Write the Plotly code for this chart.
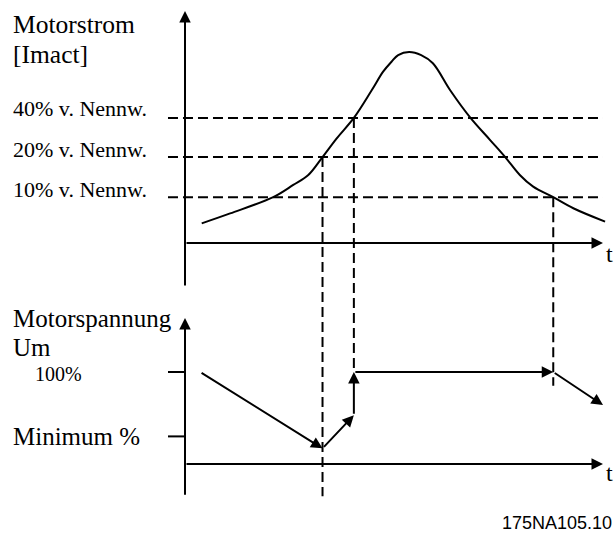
import plotly.graph_objects as go

# ---------------- data ----------------
# Motor current curve (time in % of axis length, current in schematic units, peak = 100)
t_curve = [4.0, 10.8, 21.1, 25.9, 29.5, 32.9, 36.3, 40.4, 44.7, 47.4, 49.4, 51.0, 53.6,
           56.5, 59.3, 63.4, 68.3, 73.0, 76.6, 80.1, 83.3, 88.1, 92.9, 100.5]
i_curve = [10.3, 15.5, 24.0, 30.4, 35.6, 45.0, 54.8, 65.5, 80.1, 89.7, 94.9, 98.4, 100.0,
           98.4, 94.1, 80.1, 65.5, 53.9, 45.0, 35.6, 29.5, 24.0, 18.2, 11.2]

# threshold levels of the current
level_labels = ["40% v. Nennw.", "20% v. Nennw.", "10% v. Nennw."]
level_values = [65.5, 45.0, 24.0]
cross_t = [40.4, 32.9, 88.1]          # time where the curve crosses each level
cross_end_u = [100.0, -35.0, 85.0]    # lower end of the dashed drop lines (voltage units)

# Motor voltage profile (in %)
t_volt = [3.6, 32.9, 40.4, 40.4, 88.1, 100.0]
u_volt = [100.0, 17.0, 53.0, 100.0, 100.0, 64.0]
u_tick_values = [100.0, 30.0]
u_tick_labels = ["100%", "Minimum %"]

# ---------------- layout constants ----------------
W, H = 616, 536
X0, SX = 185.0, 4.18          # pixel of t=0, px per t unit
Y0U, SYU = 243.0, 1.91        # upper diagram: pixel of I=0, px per unit
Y0L, SYL = 464.0, 0.92        # lower diagram: pixel of U=0, px per %
TICK = -4.07                  # left end of tick marks / dashed lines (t units)

def lower_to_upper(u):
    py_ = Y0L - u * SYL
    return (Y0U - py_) / SYU

def px(x):
    return x / W

def py(y):
    return 1 - y / H

BLACK = "#000000"
LW = 2
DASH = "10px,5px"
SERIF = "Liberation Serif"

fig = go.Figure()

# current curve
fig.add_trace(go.Scatter(x=t_curve, y=i_curve, mode="lines",
                         line=dict(color=BLACK, width=LW, shape="spline", smoothing=1.0),
                         xaxis="x", yaxis="y", hoverinfo="skip"))

# dashed level lines
for v in level_values:
    fig.add_trace(go.Scatter(x=[TICK, 100], y=[v, v], mode="lines",
                             line=dict(color=BLACK, width=LW, dash=DASH),
                             xaxis="x", yaxis="y", hoverinfo="skip"))

# dashed drop lines
for t, v, ue in zip(cross_t, level_values, cross_end_u):
    fig.add_trace(go.Scatter(x=[t, t], y=[v, lower_to_upper(ue)], mode="lines",
                             line=dict(color=BLACK, width=LW, dash=DASH),
                             xaxis="x", yaxis="y", hoverinfo="skip"))

# tick marks of the voltage axis
for u in u_tick_values:
    fig.add_trace(go.Scatter(x=[TICK, 0], y=[u, u], mode="lines",
                             line=dict(color=BLACK, width=LW),
                             xaxis="x", yaxis="y2", hoverinfo="skip"))

annotations = []

def arrow(x0, y0, x1, y1, yref):
    annotations.append(dict(x=x1, y=y1, ax=x0, ay=y0, xref="x", yref=yref,
                            axref="x", ayref=yref, showarrow=True, text="",
                            arrowhead=2, arrowsize=1.15, arrowwidth=LW,
                            arrowcolor=BLACK, standoff=0, startstandoff=0))

# axes of the upper diagram
arrow(0, -23, 0, 121.5, "y")
arrow(0, 0, 100, 0, "y")
# axes of the lower diagram
arrow(0, -35, 0, 158.7, "y2")
arrow(0, 0, 100, 0, "y2")

# voltage profile as arrowed segments
for k in range(len(t_volt) - 1):
    arrow(t_volt[k], u_volt[k], t_volt[k + 1], u_volt[k + 1], "y2")

def label(text, x, y, size, family=SERIF, xanchor="left"):
    annotations.append(dict(text=text, x=px(x), y=py(y), xref="paper", yref="paper",
                            showarrow=False, xanchor=xanchor, yanchor="middle",
                            font=dict(family=family, size=size, color=BLACK)))

label("Motorstrom", 11, 24, 25.5)
label("[Imact]", 11, 54, 25.5)
for txt, yy in zip(level_labels, [108, 149, 189]):
    label(txt, 11, yy, 22)
label("t", 604, 254, 24)
label("Motorspannung", 11, 318, 25)
label("Um", 11, 347, 25)
label(u_tick_labels[0], 33, 374, 20)
label(u_tick_labels[1], 11, 436.5, 25)
label("t", 604, 473, 24)
label("175NA105.10", 614, 523, 18, family="Liberation Sans", xanchor="right")

fig.update_layout(
    width=W, height=H,
    margin=dict(l=0, r=0, t=0, b=0),
    paper_bgcolor="white", plot_bgcolor="white",
    showlegend=False,
    xaxis=dict(domain=[0, 1], range=[(0 - X0) / SX, (W - X0) / SX], visible=False, fixedrange=True),
    yaxis=dict(domain=[0, 1], range=[(Y0U - H) / SYU, Y0U / SYU], visible=False, fixedrange=True),
    yaxis2=dict(domain=[0, 1], range=[(Y0L - H) / SYL, Y0L / SYL], visible=False,
                overlaying="y", fixedrange=True),
    annotations=annotations,
)

fig.write_html("out.html", config={"displayModeBar": False},
               post_script="document.body.style.margin='0';")
